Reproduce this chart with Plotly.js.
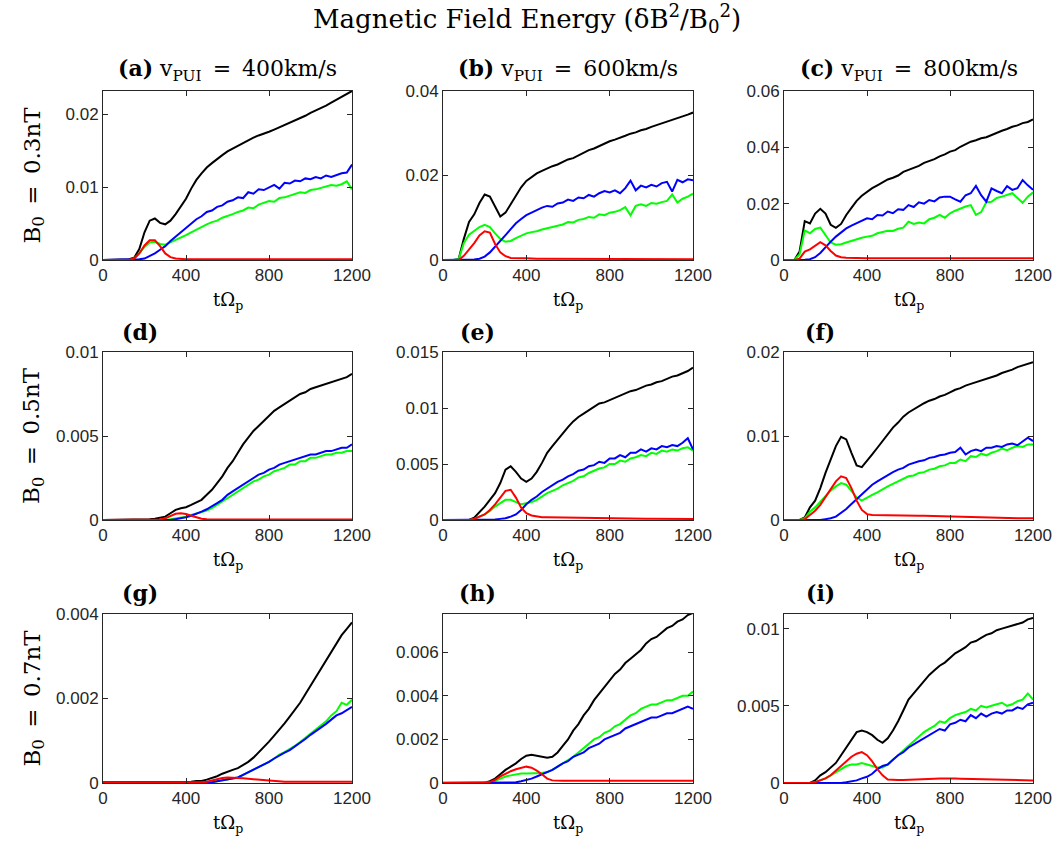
<!DOCTYPE html>
<html>
<head>
<meta charset="utf-8">
<script src="https://cdn.plot.ly/plotly-3.0.1.min.js"></script>
<style>html,body{margin:0;padding:0;background:#fff;}#chart{width:1054px;height:844px;}</style>
</head>
<body>
<div id="chart"></div>
<script>
// ---- time axis (tΩp) ----
const T = [0,25,50,75,100,125,150,175,200,225,250,275,300,325,350,375,400,425,450,475,500,525,550,575,600,625,650,675,700,725,750,775,800,825,850,875,900,925,950,975,1000,1025,1050,1075,1100,1125,1150,1175,1200];

// ---- panel (a) B0=0.3nT, v=400km/s ----
const a_black = [0,0,0,0,0.00005,0.0001,0.0003,0.0015,0.0038,0.0054,0.0057,0.0051,0.0049,0.0054,0.0063,0.0074,0.0084,0.0098,0.0110,0.0119,0.0127,0.0133,0.0139,0.0144,0.0149,0.0153,0.0157,0.0161,0.0165,0.0168,0.0171,0.0173,0.0176,0.0179,0.0182,0.0185,0.0188,0.0191,0.0195,0.0198,0.0202,0.0205,0.0208,0.0212,0.0216,0.0220,0.0224,0.0227,0.0232];
const a_green = [0,0,0,0,0,0,0.0002,0.0009,0.0018,0.0024,0.0025,0.0022,0.0021,0.0024,0.0028,0.0030,0.0034,0.0038,0.0042,0.0045,0.0049,0.0052,0.0054,0.0058,0.0060,0.0063,0.0066,0.0068,0.0072,0.0071,0.0076,0.0078,0.0081,0.0080,0.0085,0.0086,0.0088,0.0090,0.0093,0.0092,0.0096,0.0097,0.0099,0.0101,0.0103,0.0102,0.0104,0.0108,0.0097];
const a_blue = [0,0,0,0,0,0,0,0.0001,0.0002,0.0005,0.0009,0.0014,0.0019,0.0026,0.0032,0.0039,0.0045,0.0050,0.0056,0.0060,0.0066,0.0068,0.0073,0.0075,0.0080,0.0082,0.0086,0.0085,0.0093,0.0091,0.0097,0.0096,0.0100,0.0103,0.0098,0.0106,0.0105,0.0109,0.0108,0.0112,0.0111,0.0114,0.0112,0.0116,0.0114,0.0117,0.0119,0.0120,0.0131];
const a_red = [0,0,0,0,0,0,0.0002,0.0009,0.0020,0.0027,0.0027,0.0019,0.0009,0.0004,0.0002,0.00012,0.0001,0.0001,0.0001,0.0001,0.0001,0.0001,0.0001,0.0001,0.0001,0.0001,0.0001,0.0001,0.0001,0.0001,0.0001,0.0001,0.0001,0.0001,0.0001,0.0001,0.0001,0.0001,0.0001,0.0001,0.0001,0.0001,0.0001,0.0001,0.0001,0.0001,0.0001,0.0001,0.0001];

// ---- panel (b) B0=0.3nT, v=600km/s ----
const b_black = [0,0,0,0.0002,0.0050,0.0090,0.0108,0.0135,0.0155,0.0150,0.0125,0.0103,0.0112,0.0132,0.0152,0.0172,0.0187,0.0197,0.0205,0.0211,0.0217,0.0222,0.0226,0.0232,0.0238,0.0241,0.0248,0.0253,0.0260,0.0264,0.0270,0.0275,0.0281,0.0285,0.0289,0.0294,0.0299,0.0302,0.0307,0.0310,0.0315,0.0319,0.0324,0.0327,0.0332,0.0336,0.0340,0.0344,0.0349];
const b_green = [0,0,0,0.0002,0.0040,0.0060,0.0068,0.0078,0.0083,0.0078,0.0063,0.0050,0.0043,0.0045,0.0052,0.0058,0.0063,0.0066,0.0068,0.0072,0.0075,0.0079,0.0082,0.0084,0.0090,0.0089,0.0095,0.0097,0.0102,0.0100,0.0108,0.0106,0.0112,0.0114,0.0118,0.0125,0.0106,0.0128,0.0132,0.0128,0.0135,0.0133,0.0137,0.0140,0.0155,0.0136,0.0145,0.0150,0.0157];
const b_blue = [0,0,0,0,0,0,0.0001,0.0003,0.0008,0.0018,0.0031,0.0044,0.0059,0.0073,0.0087,0.0097,0.0106,0.0112,0.0118,0.0124,0.0128,0.0126,0.0134,0.0136,0.0143,0.0140,0.0148,0.0146,0.0154,0.0150,0.0158,0.0163,0.0160,0.0165,0.0158,0.0170,0.0188,0.0165,0.0176,0.0172,0.0178,0.0174,0.0182,0.0185,0.0162,0.0190,0.0184,0.0191,0.0189];
const b_red = [0,0,0,0,0.0010,0.0025,0.0040,0.0058,0.0068,0.0065,0.0038,0.0018,0.0009,0.0005,0.0004,0.0004,0.0004,0.0003,0.0003,0.0003,0.0003,0.0003,0.0003,0.0003,0.0003,0.0003,0.0003,0.0003,0.0003,0.0003,0.0003,0.0003,0.0003,0.0003,0.00025,0.00025,0.00025,0.00025,0.00025,0.00025,0.00025,0.00025,0.0002,0.0002,0.0002,0.0002,0.0002,0.0002,0.0002];

// ---- panel (c) B0=0.3nT, v=800km/s ----
const c_black = [0,0,0,0.0030,0.0138,0.0130,0.0165,0.0182,0.0165,0.0125,0.0114,0.0128,0.0160,0.0185,0.0210,0.0228,0.0243,0.0255,0.0265,0.0276,0.0286,0.0292,0.0300,0.0313,0.0320,0.0327,0.0334,0.0345,0.0351,0.0358,0.0368,0.0375,0.0385,0.0390,0.0402,0.0410,0.0420,0.0425,0.0432,0.0436,0.0444,0.0452,0.0459,0.0465,0.0473,0.0478,0.0486,0.0490,0.0499];
const c_green = [0,0,0,0.0020,0.0105,0.0095,0.0110,0.0115,0.0090,0.0062,0.0054,0.0056,0.0062,0.0068,0.0074,0.0079,0.0083,0.0086,0.0095,0.0100,0.0104,0.0103,0.0111,0.0115,0.0136,0.0128,0.0133,0.0130,0.0145,0.0150,0.0160,0.0150,0.0166,0.0175,0.0183,0.0190,0.0195,0.0160,0.0170,0.0205,0.0207,0.0220,0.0225,0.0230,0.0237,0.0220,0.0203,0.0225,0.0240];
const c_blue = [0,0,0,0,0.0001,0.0003,0.0010,0.0025,0.0047,0.0065,0.0083,0.0098,0.0112,0.0122,0.0130,0.0140,0.0148,0.0145,0.0160,0.0158,0.0172,0.0166,0.0180,0.0178,0.0195,0.0188,0.0205,0.0200,0.0213,0.0208,0.0222,0.0225,0.0225,0.0215,0.0207,0.0230,0.0237,0.0263,0.0230,0.0207,0.0254,0.0245,0.0237,0.0262,0.0249,0.0255,0.0284,0.0265,0.0249];
const c_red = [0,0,0,0.0005,0.0030,0.0038,0.0050,0.0063,0.0052,0.0032,0.0016,0.0010,0.0008,0.0007,0.0007,0.0006,0.0006,0.0006,0.0006,0.0006,0.0005,0.0005,0.0005,0.0005,0.0005,0.0005,0.0005,0.0005,0.0005,0.0005,0.0005,0.0005,0.0005,0.0005,0.0005,0.0005,0.0005,0.0005,0.0005,0.0005,0.0006,0.0006,0.0006,0.0006,0.0006,0.0006,0.0006,0.0006,0.0006];

// ---- panel (d) B0=0.5nT, v=400km/s ----
const d_black = [0,0,0,0,0,0.00001,0.00002,0.00002,0.00003,0.00004,0.00008,0.00012,0.0002,0.0004,0.0006,0.0007,0.00076,0.0009,0.00104,0.0012,0.0015,0.0018,0.0022,0.0026,0.0031,0.0035,0.0040,0.0045,0.0049,0.0053,0.0056,0.0059,0.0062,0.0065,0.0067,0.0069,0.0071,0.0073,0.0075,0.0076,0.0078,0.0079,0.0080,0.0081,0.0082,0.0083,0.0084,0.0085,0.0087];
const d_green = [0,0,0,0,0,0,0,0,0,0,0,0,0,0.00005,0.0001,0.00015,0.0002,0.0003,0.00038,0.00046,0.00056,0.0007,0.0009,0.0011,0.0013,0.0015,0.0017,0.0019,0.0021,0.0023,0.0024,0.0026,0.0027,0.0029,0.0030,0.0031,0.0033,0.0033,0.0035,0.0035,0.0037,0.0037,0.0038,0.0039,0.0039,0.0040,0.0040,0.0041,0.0041];
const d_blue = [0,0,0,0,0,0,0,0,0,0,0,0,0,0,0.00005,0.0001,0.00016,0.00025,0.00036,0.0005,0.00064,0.0008,0.0010,0.0012,0.0015,0.0017,0.0019,0.0021,0.0023,0.0025,0.0027,0.0028,0.0030,0.0031,0.0033,0.0034,0.0035,0.0036,0.0037,0.0038,0.0039,0.0039,0.0040,0.0041,0.0041,0.0042,0.0043,0.0043,0.0045];
const d_red = [0,0,0,0,0,0,0,0,0,0,0,0.00003,0.0001,0.00025,0.00037,0.0004,0.00036,0.00025,0.00014,0.00007,0.00004,0.00003,0.00003,0.00003,0.00003,0.00003,0.00003,0.00003,0.00003,0.00003,0.00003,0.00003,0.00003,0.00003,0.00003,0.00003,0.00003,0.00003,0.00003,0.00003,0.00003,0.00003,0.00003,0.00003,0.00003,0.00003,0.00003,0.00003,0.00003];

// ---- panel (e) B0=0.5nT, v=600km/s ----
const e_black = [0,0,0,0,0,0,0.0002,0.0007,0.0012,0.0018,0.0024,0.0033,0.0045,0.0048,0.0043,0.0037,0.0034,0.0037,0.0043,0.0051,0.0060,0.0066,0.0072,0.0078,0.0083,0.0088,0.0092,0.0095,0.0098,0.0101,0.0104,0.0105,0.0107,0.0109,0.0111,0.0113,0.0115,0.0116,0.0118,0.0120,0.0121,0.0123,0.0124,0.0126,0.0128,0.0129,0.0131,0.0133,0.0136];
const e_green = [0,0,0,0,0,0,0.0001,0.0003,0.0005,0.0008,0.0012,0.0015,0.0018,0.0018,0.0016,0.0014,0.0015,0.0016,0.0018,0.0021,0.0024,0.0026,0.0028,0.0031,0.0033,0.0035,0.0038,0.0039,0.0042,0.0044,0.0046,0.0047,0.0050,0.0050,0.0053,0.0052,0.0055,0.0056,0.0058,0.0057,0.0060,0.0059,0.0062,0.0061,0.0063,0.0062,0.0064,0.0065,0.0062];
const e_blue = [0,0,0,0,0,0,0,0,0,0,0.00005,0.0001,0.00015,0.0003,0.0005,0.0009,0.0014,0.0018,0.0021,0.0025,0.0028,0.0031,0.0034,0.0036,0.0039,0.0041,0.0044,0.0045,0.0048,0.0049,0.0052,0.0051,0.0055,0.0055,0.0058,0.0056,0.0060,0.0060,0.0063,0.0061,0.0064,0.0063,0.0066,0.0065,0.0067,0.0066,0.0069,0.0073,0.0063];
const e_red = [0,0,0,0,0,0,0.0001,0.0003,0.0005,0.0009,0.0014,0.0020,0.0026,0.0027,0.0020,0.0011,0.0006,0.0004,0.0003,0.00025,0.00024,0.00023,0.00022,0.00022,0.0002,0.0002,0.0002,0.00019,0.00018,0.00017,0.00016,0.00016,0.00015,0.00015,0.00014,0.00014,0.00013,0.00013,0.00012,0.00012,0.00012,0.00011,0.00011,0.00011,0.0001,0.0001,0.0001,0.0001,0.0001];

// ---- panel (f) B0=0.5nT, v=800km/s ----
const f_black = [0,0,0,0,0.0003,0.0015,0.0023,0.0038,0.0056,0.0073,0.0088,0.0099,0.0096,0.0080,0.0065,0.0063,0.0070,0.0078,0.0086,0.0094,0.0102,0.0110,0.0116,0.0123,0.0128,0.0132,0.0135,0.0139,0.0142,0.0144,0.0147,0.0149,0.0152,0.0155,0.0157,0.0160,0.0162,0.0164,0.0166,0.0168,0.0170,0.0172,0.0175,0.0177,0.0179,0.0182,0.0184,0.0186,0.0188];
const f_green = [0,0,0,0,0.0002,0.0010,0.0015,0.0022,0.0029,0.0035,0.0040,0.0044,0.0042,0.0035,0.0027,0.0023,0.0027,0.0030,0.0033,0.0037,0.0040,0.0043,0.0046,0.0049,0.0052,0.0053,0.0056,0.0057,0.0060,0.0061,0.0064,0.0065,0.0068,0.0068,0.0072,0.0070,0.0076,0.0075,0.0079,0.0077,0.0080,0.0082,0.0085,0.0083,0.0086,0.0088,0.0087,0.0090,0.0090];
const f_blue = [0,0,0,0,0,0,0,0,0.0001,0.0002,0.0004,0.0008,0.0013,0.0019,0.0025,0.0031,0.0037,0.0042,0.0046,0.0050,0.0054,0.0057,0.0060,0.0062,0.0066,0.0068,0.0070,0.0071,0.0074,0.0075,0.0077,0.0078,0.0080,0.0081,0.0086,0.0078,0.0082,0.0084,0.0082,0.0086,0.0086,0.0088,0.0087,0.0090,0.0091,0.0089,0.0093,0.0098,0.0094];
const f_red = [0,0,0,0,0.0001,0.0006,0.0011,0.0018,0.0027,0.0037,0.0046,0.0052,0.0050,0.0038,0.0023,0.0012,0.0007,0.0006,0.0006,0.0006,0.0006,0.0006,0.00058,0.00056,0.00055,0.00054,0.00052,0.0005,0.00048,0.00046,0.00045,0.00044,0.0004,0.0004,0.00038,0.00036,0.00035,0.00034,0.00032,0.0003,0.0003,0.00028,0.00026,0.00025,0.00024,0.00022,0.0002,0.0002,0.0002];

// ---- panel (g) B0=0.7nT, v=400km/s ----
const g_black = [0.00002,0.00002,0.00002,0.00002,0.00002,0.00002,0.00002,0.00002,0.00002,0.00002,0.00002,0.00002,0.00002,0.00002,0.00002,0.00002,0.00002,0.00003,0.00005,0.00005,0.00008,0.00012,0.00016,0.00022,0.00027,0.00031,0.00035,0.00042,0.0005,0.0006,0.00072,0.00085,0.00098,0.00112,0.00126,0.00141,0.00157,0.00173,0.0019,0.0021,0.0023,0.0025,0.0027,0.0029,0.0031,0.0033,0.0035,0.00365,0.0038];
const g_green = [0.00001,0.00001,0.00001,0.00001,0.00001,0.00001,0.00001,0.00001,0.00001,0.00001,0.00001,0.00001,0.00001,0.00001,0.00001,0.00001,0.00001,0.00001,0.00001,0.00001,0.00001,0.00002,0.00004,0.00006,0.00008,0.0001,0.00013,0.00019,0.00025,0.00031,0.00037,0.00043,0.0005,0.00058,0.00067,0.00073,0.0008,0.00088,0.00097,0.00107,0.00118,0.00127,0.00136,0.00146,0.0016,0.0017,0.0019,0.00185,0.00197];
const g_blue = [0.00001,0.00001,0.00001,0.00001,0.00001,0.00001,0.00001,0.00001,0.00001,0.00001,0.00001,0.00001,0.00001,0.00001,0.00001,0.00001,0.00001,0.00001,0.00001,0.00001,0.00001,0.00002,0.00004,0.00006,0.00008,0.0001,0.00013,0.00019,0.00025,0.00031,0.00037,0.00043,0.0005,0.00058,0.00066,0.00072,0.00078,0.00086,0.00094,0.00104,0.00114,0.00122,0.0013,0.0014,0.0015,0.0016,0.00165,0.00172,0.0018];
const g_red = [0.00001,0.00001,0.00001,0.00001,0.00001,0.00001,0.00001,0.00001,0.00001,0.00001,0.00001,0.00001,0.00001,0.00001,0.00001,0.00001,0.00001,0.00001,0.00001,0.00001,0.00003,0.00006,0.0001,0.00012,0.00013,0.00013,0.00012,0.00011,0.0001,0.00009,0.00007,0.00006,0.00005,0.00004,0.00004,0.00003,0.00003,0.00003,0.00003,0.00003,0.00003,0.00003,0.00003,0.00003,0.00003,0.00003,0.00003,0.00003,0.00003];

// ---- panel (h) B0=0.7nT, v=600km/s ----
const h_black = [0.00001,0.00001,0.00001,0.00001,0.00001,0.00001,0.00001,0.00001,0.00001,0.00008,0.0002,0.0004,0.0006,0.00075,0.0009,0.0011,0.00125,0.0013,0.00126,0.0012,0.00116,0.0012,0.0014,0.0017,0.0020,0.0024,0.0027,0.0031,0.0034,0.0038,0.0041,0.0044,0.0047,0.0050,0.0052,0.0055,0.0057,0.0059,0.0061,0.0064,0.0066,0.0067,0.0069,0.0071,0.0072,0.0074,0.0075,0.0077,0.0078];
const h_green = [0,0,0,0,0,0,0,0,0,0.00003,0.0001,0.0002,0.0003,0.00035,0.0004,0.00043,0.00044,0.00044,0.00044,0.00046,0.0005,0.0006,0.00075,0.0009,0.00106,0.0012,0.0014,0.0016,0.0018,0.0020,0.0021,0.0023,0.0024,0.0026,0.0027,0.0029,0.0031,0.0032,0.0034,0.0035,0.0036,0.0036,0.0037,0.0038,0.0038,0.0039,0.0040,0.0040,0.0042];
const h_blue = [0,0,0,0,0,0,0,0,0,0,0,0,0,0,0.00003,0.00008,0.00014,0.0002,0.0003,0.0004,0.0005,0.0006,0.00075,0.0009,0.0010,0.0012,0.0013,0.0014,0.0016,0.0017,0.0018,0.0020,0.0021,0.0022,0.0023,0.0025,0.0026,0.0027,0.0028,0.0029,0.0030,0.0030,0.0031,0.0032,0.0032,0.0033,0.0034,0.0035,0.0034];
const h_red = [0,0,0,0,0,0,0,0,0,0.00005,0.00014,0.0003,0.00044,0.00054,0.00063,0.0007,0.00075,0.0007,0.00057,0.0004,0.0002,0.00012,0.0001,0.0001,0.0001,0.0001,0.0001,0.0001,0.0001,0.0001,0.0001,0.0001,0.0001,0.0001,0.0001,0.0001,0.0001,0.0001,0.0001,0.0001,0.0001,0.0001,0.0001,0.0001,0.0001,0.0001,0.0001,0.0001,0.0001];

// ---- panel (i) B0=0.7nT, v=800km/s ----
const i_black = [0,0,0,0,0,0,0.00017,0.0005,0.0007,0.0010,0.0013,0.0018,0.0023,0.0028,0.0033,0.0034,0.0033,0.0031,0.0028,0.0026,0.0029,0.0034,0.0040,0.0047,0.0054,0.0058,0.0062,0.0066,0.0070,0.0073,0.0076,0.0078,0.0081,0.0084,0.0086,0.0088,0.0091,0.0092,0.0094,0.0096,0.0097,0.0099,0.0100,0.0101,0.0102,0.0103,0.0104,0.0106,0.0107];
const i_green = [0,0,0,0,0,0,0.00005,0.00015,0.0003,0.0005,0.0007,0.0009,0.0011,0.0012,0.0012,0.0013,0.0012,0.0011,0.0010,0.0010,0.0012,0.0015,0.0018,0.0021,0.0024,0.0027,0.0030,0.0033,0.0035,0.0037,0.0040,0.0039,0.0042,0.0044,0.0045,0.0046,0.0048,0.0047,0.0050,0.0049,0.0050,0.0051,0.0052,0.0050,0.0051,0.0053,0.0054,0.0058,0.0054];
const i_blue = [0,0,0,0,0,0,0,0,0,0,0,0,0.00005,0.0001,0.00017,0.0003,0.0004,0.0006,0.0009,0.0011,0.0012,0.0015,0.0018,0.0020,0.0023,0.0025,0.0027,0.0029,0.0031,0.0033,0.0035,0.0034,0.0038,0.0039,0.0041,0.0040,0.0044,0.0042,0.0045,0.0043,0.0045,0.0046,0.0045,0.0047,0.0047,0.0049,0.0048,0.0051,0.0052];
const i_red = [0,0,0,0,0,0,0.00005,0.00015,0.0003,0.0005,0.0008,0.0011,0.0014,0.0017,0.0019,0.0020,0.0018,0.0014,0.0009,0.0005,0.00023,0.0002,0.0002,0.0002,0.00022,0.00024,0.00025,0.00026,0.00027,0.00028,0.00029,0.0003,0.0003,0.00029,0.00028,0.00027,0.00026,0.00025,0.00024,0.00023,0.00022,0.00021,0.0002,0.0002,0.00019,0.00018,0.00018,0.00017,0.00017];

// ---- axis ranges and tick labels ----
const yMax = {a:0.0232, b:0.04, c:0.06, d:0.01, e:0.015, f:0.02, g:0.004, h:0.00775, i:0.01095};
const yTickVals = {a:[0,0.01,0.02], b:[0,0.02,0.04], c:[0,0.02,0.04,0.06], d:[0,0.005,0.01], e:[0,0.005,0.01,0.015], f:[0,0.01,0.02], g:[0,0.002,0.004], h:[0,0.002,0.004,0.006], i:[0,0.005,0.01]};
const yTickText = {a:['0','0.01','0.02'], b:['0','0.02','0.04'], c:['0','0.02','0.04','0.06'], d:['0','0.005','0.01'], e:['0','0.005','0.01','0.015'], f:['0','0.01','0.02'], g:['0','0.002','0.004'], h:['0','0.002','0.004','0.006'], i:['0','0.005','0.01']};
const xTickVals = [0,400,800,1200];
const xTickText = ['0','400','800','1200'];
const panelLetters = ['a','b','c','d','e','f','g','h','i'];
const velocities = ['400','600','800'];
const fieldLabels = ['0.3','0.5','0.7'];
const seriesData = {
  a:[a_black,a_green,a_blue,a_red], b:[b_black,b_green,b_blue,b_red], c:[c_black,c_green,c_blue,c_red],
  d:[d_black,d_green,d_blue,d_red], e:[e_black,e_green,e_blue,e_red], f:[f_black,f_green,f_blue,f_red],
  g:[g_black,g_green,g_blue,g_red], h:[h_black,h_green,h_blue,h_red], i:[i_black,i_green,i_blue,i_red]
};
const seriesColors = ['#000000','#00ff00','#0000ff','#ff0000'];

// ---- layout geometry (pixels) ----
const W = 1054, H = 844;
const colPx = [[103,352],[443,693],[784,1033]];
const rowPx = [[91,260],[352,520],[614,783]];
const px2x = p => p / W;
const px2y = p => 1 - p / H;

const serif = 'DejaVu Serif, Liberation Serif, serif';
const sans = 'Liberation Sans, Arial, Helvetica, sans-serif';
const textCol = '#000000';
const axCol = '#262626';
const eq = '\u2002=\u2002';

const traces = [];
const layout = {
  width: W, height: H,
  margin: {l:0, r:0, t:0, b:0},
  paper_bgcolor: '#ffffff', plot_bgcolor: '#ffffff',
  showlegend: false,
  hovermode: false,
  annotations: []
};

panelLetters.forEach((p, k) => {
  const r = Math.floor(k / 3), c = k % 3;
  const sfx = k === 0 ? '' : String(k + 1);
  seriesData[p].forEach((ys, j) => {
    traces.push({
      x: T, y: ys, type: 'scatter', mode: 'lines',
      xaxis: 'x' + sfx, yaxis: 'y' + sfx,
      line: {color: seriesColors[j], width: 2},
      hoverinfo: 'skip'
    });
  });
  const common = {
    showgrid: false, zeroline: false, showline: true, mirror: 'ticks',
    linecolor: axCol, linewidth: 1, ticks: 'inside', ticklen: 5, tickwidth: 1, tickcolor: axCol,
    tickfont: {family: sans, size: 17, color: axCol}, fixedrange: true
  };
  layout['xaxis' + sfx] = Object.assign({}, common, {
    domain: [px2x(colPx[c][0]), px2x(colPx[c][1])],
    anchor: 'y' + sfx, range: [0, 1200],
    tickmode: 'array', tickvals: xTickVals, ticktext: xTickText
  });
  layout['yaxis' + sfx] = Object.assign({}, common, {
    domain: [px2y(rowPx[r][1]), px2y(rowPx[r][0])],
    anchor: 'x' + sfx, range: [0, yMax[p]],
    tickmode: 'array', tickvals: yTickVals[p], ticktext: yTickText[p]
  });
  const cx = (colPx[c][0] + colPx[c][1]) / 2;
  // x-axis title
  layout.annotations.push({
    xref: 'paper', yref: 'paper', x: px2x(cx), y: px2y(rowPx[r][1] + 41),
    text: 'tΩ<sub>p</sub>', showarrow: false, xanchor: 'center', yanchor: 'middle',
    font: {family: serif, size: 18, color: textCol}
  });
  // panel title
  let ttl, tx;
  if (r === 0) {
    ttl = '<b>(' + p + ')</b> v<sub>PUI</sub>' + eq + velocities[c] + 'km/s';
    tx = cx;
  } else {
    ttl = '<b>(' + p + ')</b>';
    tx = [140, 477, 820][c];
  }
  layout.annotations.push({
    xref: 'paper', yref: 'paper', x: px2x(tx), y: px2y([70, 332, 593][r]),
    text: ttl, showarrow: false, xanchor: 'center', yanchor: 'middle',
    font: {family: serif, size: 22, color: textCol}
  });
});

// row labels
fieldLabels.forEach((b, r) => {
  layout.annotations.push({
    xref: 'paper', yref: 'paper', x: px2x(33), y: px2y((rowPx[r][0] + rowPx[r][1]) / 2),
    text: 'B<sub>0</sub>' + eq + b + 'nT', textangle: -90, showarrow: false,
    xanchor: 'center', yanchor: 'middle',
    font: {family: serif, size: 23, color: textCol}
  });
});

// main title
layout.annotations.push({
  xref: 'paper', yref: 'paper', x: px2x(527), y: px2y(19),
  text: 'Magnetic Field Energy (δB<sup>2</sup>/B<sub>0</sub><sup>2</sup>)', showarrow: false,
  xanchor: 'center', yanchor: 'middle',
  font: {family: serif, size: 26, color: textCol}
});

Plotly.newPlot('chart', traces, layout, {staticPlot: true, displayModeBar: false});
</script>
</body>
</html>
